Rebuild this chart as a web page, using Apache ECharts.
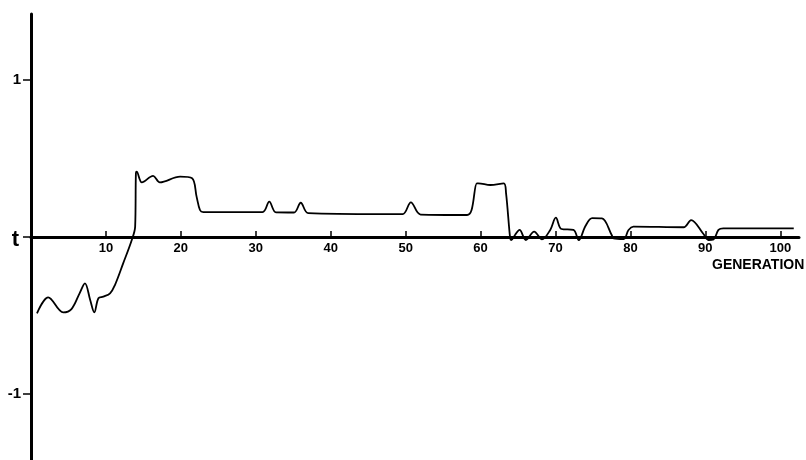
<!DOCTYPE html>
<html>
<head>
<meta charset="utf-8">
<script src="https://cdn.jsdelivr.net/npm/echarts@6/dist/echarts.min.js"></script>
<style>
html,body{margin:0;padding:0;background:#fff;}
#chart{width:806px;height:460px;}
</style>
</head>
<body>
<div id="chart"></div>
<script>
// Generation values (x) and trait value (y)
var generations = [0.8, 2.3, 4.3, 5.4, 6.5, 7.2, 7.9, 8.45, 9.0, 9.65, 10.55, 11.2, 12.3, 13.45, 13.9, 14.0, 14.1, 14.8, 16.3, 17.2, 19.9, 21.5, 22.1, 22.55, 23.0, 30.9, 31.8, 32.7, 35.1, 36.0, 37.0, 46.6, 49.6, 50.7, 52.0, 58.2, 58.8, 59.5, 59.7, 61.3, 63.1, 63.4, 63.95, 64.1, 64.6, 65.2, 66.05, 67.15, 68.2, 69.3, 70.05, 70.8, 72.4, 73.1, 74.0, 74.9, 76.2, 77.5, 77.75, 79.1, 79.75, 80.4, 87.1, 88.1, 89.75, 90.4, 91.1, 91.75, 92.4, 101.8];
var values = [-0.486, -0.384, -0.48, -0.459, -0.357, -0.295, -0.401, -0.48, -0.39, -0.38, -0.359, -0.306, -0.168, -0.019, 0.066, 0.406, 0.416, 0.348, 0.389, 0.348, 0.384, 0.374, 0.257, 0.172, 0.159, 0.159, 0.225, 0.157, 0.156, 0.218, 0.152, 0.146, 0.146, 0.221, 0.143, 0.14, 0.172, 0.342, 0.342, 0.331, 0.342, 0.28, -0.008, -0.019, 0.013, 0.045, -0.019, 0.034, -0.015, 0.045, 0.123, 0.051, 0.045, -0.02, 0.07, 0.12, 0.118, 0.013, -0.008, -0.013, 0.045, 0.066, 0.062, 0.108, 0.019, -0.019, -0.015, 0.045, 0.055, 0.055];
var xTickValues = [10, 20, 30, 40, 50, 60, 70, 80, 90, 100];
var yTickValues = [-1, 0, 1];
var yTickLabels = {'-1': '-1', '0': 't', '1': '1'};
var xAxisTitle = 'GENERATION';

var seriesData = generations.map(function (g, i) { return [g, values[i]]; });

var chart = echarts.init(document.getElementById('chart'), null, {renderer: 'canvas'});
chart.setOption({
  animation: false,
  backgroundColor: '#ffffff',
  grid: {left: 31, right: 7, top: 14, bottom: 0, containLabel: false, outerBoundsMode: 'none'},
  xAxis: {
    type: 'value',
    min: 0,
    max: 102.5,
    position: 'bottom',
    offset: -223,
    axisLine: {show: true, onZero: false, lineStyle: {color: '#000', width: 3}},
    axisTick: {show: true, inside: true, length: 6, customValues: xTickValues, lineStyle: {color: '#000', width: 1.5}},
    axisLabel: {
      show: true, customValues: xTickValues, margin: 5,
      color: '#000', fontFamily: 'Liberation Sans, Arial, sans-serif', fontWeight: 'bold', fontSize: 13
    },
    splitLine: {show: false}
  },
  yAxis: {
    type: 'value',
    min: -1.42,
    max: 1.42,
    axisLine: {show: true, onZero: false, lineStyle: {color: '#000', width: 3}},
    axisTick: {show: true, inside: false, length: 8, customValues: yTickValues, lineStyle: {color: '#000', width: 1.5}},
    axisLabel: {
      show: true, customValues: yTickValues, margin: 10,
      color: '#000', fontFamily: 'Liberation Sans, Arial, sans-serif', fontWeight: 'bold', fontSize: 15,
      formatter: function (v) {
        var k = String(Math.round(v));
        return k === '0' ? '{t|t}' : yTickLabels[k];
      },
      rich: {t: {fontSize: 22, fontWeight: 'bold', fontFamily: 'Liberation Sans, Arial, sans-serif', color: '#000', padding: [6, 2, 0, 0]}}
    },
    splitLine: {show: false}
  },
  graphic: [{
    type: 'text',
    left: 712,
    top: 258,
    style: {text: xAxisTitle, fill: '#000', font: 'bold 14px "Liberation Sans", Arial, sans-serif'}
  }],
  series: [{
    type: 'line',
    data: seriesData,
    smooth: 0.35,
    showSymbol: false,
    symbol: 'none',
    lineStyle: {color: '#000', width: 1.8},
    z: 1
  }]
});
</script>
</body>
</html>
